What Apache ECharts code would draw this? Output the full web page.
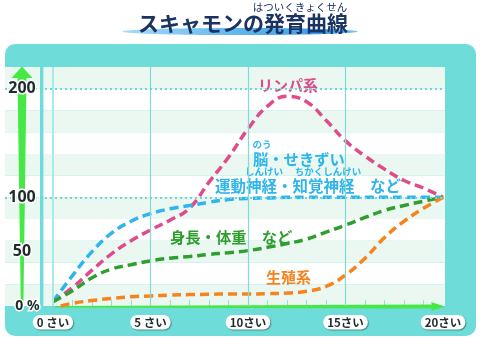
<!DOCTYPE html>
<html>
<head>
<meta charset="utf-8">
<script src="https://cdn.jsdelivr.net/npm/echarts@6/dist/echarts.min.js"></script>
<style>
  html, body { margin: 0; padding: 0; background: #ffffff; }
  #chart { width: 481px; height: 341px; }
</style>
</head>
<body>
<div id="chart"></div>
<script>
// Scammon's growth curves: growth at each age as % of the size at 20 years.
const ages = [0, 1, 2, 3, 4, 5, 6, 7, 8, 9, 10, 11, 12, 13, 14, 15, 16, 17, 18, 19, 20];
const lymphValues  = [4, 17, 33, 48, 60, 70, 79, 90, 114, 137, 163, 184, 193, 188, 171, 152, 138, 126, 115.5, 108.5, 100];
const neuralValues = [4, 28, 50, 67, 78, 85, 89.5, 92.5, 95.5, 98, 99, 99.5, 100, 100, 100, 100, 100, 100, 100, 100, 100];
const generalValues = [4, 14, 26, 34, 38, 41.5, 44, 45.5, 47.5, 49, 51, 54, 57.5, 61.5, 68, 74.5, 81.5, 88, 92.5, 96.5, 100];
const reproAges   = [0.4, 1, 2, 3, 4, 5, 6, 7, 8, 9, 10, 11, 12, 13, 14, 15, 16, 17, 18, 19, 20];
const reproValues = [0, 2.5, 5, 7, 8.5, 9.3, 10, 10.5, 10.8, 11, 11, 11.3, 12, 13.5, 18, 28.5, 44, 63, 78, 90, 100];

const xTickValues = [0, 5, 10, 15, 20];
const xTickLabels = ['0 さい', '5 さい', '10さい', '15さい', '20さい'];
const yTickValues = [0, 50, 100, 200];
const yTickLabels = ['0 %', '50', '100', '200'];
const yearTicks = [1, 2, 3, 4, 5, 6, 7, 8, 9, 10, 11, 12, 13, 14, 15, 16, 17, 18, 19];

const PANEL = '#6EDCD8';
const PINK = '#DF4B8B';
const BLUE = '#2FB5EC';
const GREEN = '#2E9F2E';
const ORANGE = '#F5841F';
const JP = '"Noto Sans CJK JP", "Noto Sans", sans-serif';

const pairs = (xs, ys) => xs.map((x, i) => [x, ys[i]]);

function curve(name, color, xs, ys) {
  return {
    name: name,
    type: 'line',
    smooth: 0.45,
    showSymbol: false,
    silent: true,
    z: 2,
    data: pairs(xs, ys),
    lineStyle: { color: color, width: 3.5, type: [9, 5], cap: 'butt' }
  };
}

const chart = echarts.init(document.getElementById('chart'), null, { renderer: 'canvas' });

chart.setOption({
  animation: false,
  backgroundColor: '#ffffff',
  grid: { left: 5, right: 36, top: 67, bottom: 35, containLabel: false },
  xAxis: {
    type: 'value',
    min: -2.46,
    max: 20.1,
    z: 1,
    axisLine: { show: false },
    splitLine: { show: false },
    axisTick: {
      show: true,
      inside: true,
      length: 6,
      customValues: yearTicks,
      lineStyle: { color: '#98DFDC', width: 1 }
    },
    axisLabel: {
      show: true,
      customValues: xTickValues,
      margin: 9,
      formatter: v => xTickLabels[xTickValues.indexOf(v)] || '',
      fontFamily: JP,
      fontWeight: 'bold',
      fontSize: 11.5,
      color: '#1E2B2B',
      backgroundColor: '#ffffff',
      borderRadius: 7,
      padding: [2, 4, 1, 4],
      shadowColor: 'rgba(0,0,0,0.35)',
      shadowBlur: 1,
      shadowOffsetX: 1,
      shadowOffsetY: 1
    }
  },
  yAxis: [
    {
      type: 'value',
      min: 0,
      max: 220,
      interval: 20,
      z: 0,
      axisLine: { show: false },
      axisTick: { show: false },
      axisLabel: { show: false },
      splitLine: { show: false },
      splitArea: { show: true, areaStyle: { color: ['#EAF8F1', '#FFFFFF'] } }
    },
    {
      type: 'value',
      min: 0,
      max: 220,
      interval: 50,
      z: 10,
      position: 'left',
      axisLine: { show: false },
      axisTick: { show: false },
      splitLine: { show: false },
      splitArea: { show: false },
      axisLabel: {
        inside: true,
        margin: 17,
        align: 'center',
        showMaxLabel: false,
        formatter: v => {
          const i = yTickValues.indexOf(v);
          if (i < 0) return '';
          return v === 0 ? '{z|' + yTickLabels[i] + '}' : '{n|' + yTickLabels[i] + '}';
        },
        rich: {
          n: {
            fontFamily: '"Noto Sans", sans-serif', fontWeight: 'bold', fontSize: 16,
            color: '#1E2A2A', textBorderColor: '#ffffff', textBorderWidth: 3
          },
          z: {
            fontFamily: '"Noto Sans", sans-serif', fontWeight: 'bold', fontSize: 14,
            color: '#1E2A2A', textBorderColor: '#ffffff', textBorderWidth: 3,
            padding: [0, 0, 0, 11]
          }
        }
      }
    }
  ],
  series: [
    {
      // grid lines: age guides and the 100 / 200 % dotted lines
      type: 'line',
      data: [],
      z: 1,
      silent: true,
      markLine: {
        silent: true,
        symbol: 'none',
        label: { show: false },
        animation: false,
        data: [
          { xAxis: 0, lineStyle: { color: '#A9E9E6', width: 2, type: 'solid' } },
          { xAxis: 5, lineStyle: { color: '#84DAD6', width: 1.2, type: 'solid' } },
          { xAxis: 10, lineStyle: { color: '#84DAD6', width: 1.2, type: 'solid' } },
          { xAxis: 15, lineStyle: { color: '#84DAD6', width: 1.2, type: 'solid' } },
          { yAxis: 100, lineStyle: { color: '#6FD6D3', width: 2, type: [2, 3] } },
          { yAxis: 200, lineStyle: { color: '#6FD6D3', width: 2, type: [2, 3] } }
        ]
      }
    },
    curve('リンパ系', PINK, ages, lymphValues),
    curve('脳・せきずい', BLUE, ages, neuralValues),
    curve('身長・体重', GREEN, ages, generalValues),
    curve('生殖系', ORANGE, reproAges, reproValues)
  ],
  graphic: [
    // turquoise frame
    { type: 'rect', z: -10, silent: true,
      shape: { x: 5, y: 44, width: 471, height: 292, r: 10 },
      style: { fill: PANEL } },
    // vertical bar left of the plot
    { type: 'rect', z: 1, silent: true,
      shape: { x: 40, y: 67, width: 3.4, height: 240 },
      style: { fill: PANEL } },
    // vertical growth arrow
    { type: 'polygon', z: 1.5, silent: true,
      shape: { points: [[22, 66.5], [32.5, 78], [26.5, 78], [23.4, 305], [20.8, 305], [17.5, 78], [11.5, 78]] },
      style: { fill: '#45E845' } },
    // horizontal age arrow
    { type: 'polygon', z: 1.5, silent: true,
      shape: { points: [[55, 306], [432, 304.6], [431, 302], [445, 306.6], [431, 311], [432, 308.6], [55, 307.4]] },
      style: { fill: '#45E845' } },
    // title underline
    { type: 'ellipse', z: 1, silent: true,
      shape: { cx: 240, cy: 31.5, rx: 118, ry: 3.6 },
      style: {
        fill: new echarts.graphic.LinearGradient(0, 0, 1, 0, [
          { offset: 0, color: '#A6DBF8' },
          { offset: 0.5, color: '#5FB6EE' },
          { offset: 0.85, color: '#3C9CE4' },
          { offset: 1, color: '#7CC4F2' }
        ])
      } },
    { type: 'text', z: 5, silent: true,
      style: { text: 'スキャモンの発育曲線', x: 243, y: 23, textAlign: 'center', textVerticalAlign: 'middle',
               font: 'bold 21px ' + JP, fill: '#1B3362' } },
    { type: 'text', z: 5, silent: true,
      style: { text: 'はついくきょくせん', x: 300, y: 7, textAlign: 'center', textVerticalAlign: 'middle',
               font: '10.5px ' + JP, fill: '#1B3362' } },
    // curve names
    { type: 'text', z: 5, silent: true,
      style: { text: 'リンパ系', x: 288, y: 85, textAlign: 'center', textVerticalAlign: 'middle',
               font: 'bold 15px ' + JP, fill: PINK } },
    { type: 'text', z: 5, silent: true,
      style: { text: 'のう', x: 262, y: 144, textAlign: 'center', textVerticalAlign: 'middle',
               font: 'bold 9.5px ' + JP, fill: BLUE } },
    { type: 'text', z: 5, silent: true,
      style: { text: '脳・せきずい', x: 253, y: 159, textAlign: 'left', textVerticalAlign: 'middle',
               font: 'bold 15.3px ' + JP, fill: BLUE } },
    { type: 'text', z: 5, silent: true,
      style: { text: 'しんけい', x: 264, y: 171, textAlign: 'center', textVerticalAlign: 'middle',
               font: 'bold 9.5px ' + JP, fill: BLUE } },
    { type: 'text', z: 5, silent: true,
      style: { text: 'ちかくしんけい', x: 328, y: 171, textAlign: 'center', textVerticalAlign: 'middle',
               font: 'bold 9.5px ' + JP, fill: BLUE } },
    { type: 'text', z: 5, silent: true,
      style: { text: '運動神経・知覚神経　など', x: 215, y: 186, textAlign: 'left', textVerticalAlign: 'middle',
               font: 'bold 15.5px ' + JP, fill: BLUE } },
    { type: 'text', z: 5, silent: true,
      style: { text: '身長・体重　など', x: 170, y: 237, textAlign: 'left', textVerticalAlign: 'middle',
               font: 'bold 15.3px ' + JP, fill: GREEN } },
    { type: 'text', z: 5, silent: true,
      style: { text: '生殖系', x: 266, y: 277, textAlign: 'left', textVerticalAlign: 'middle',
               font: 'bold 15px ' + JP, fill: ORANGE } }
  ]
});
</script>
</body>
</html>
